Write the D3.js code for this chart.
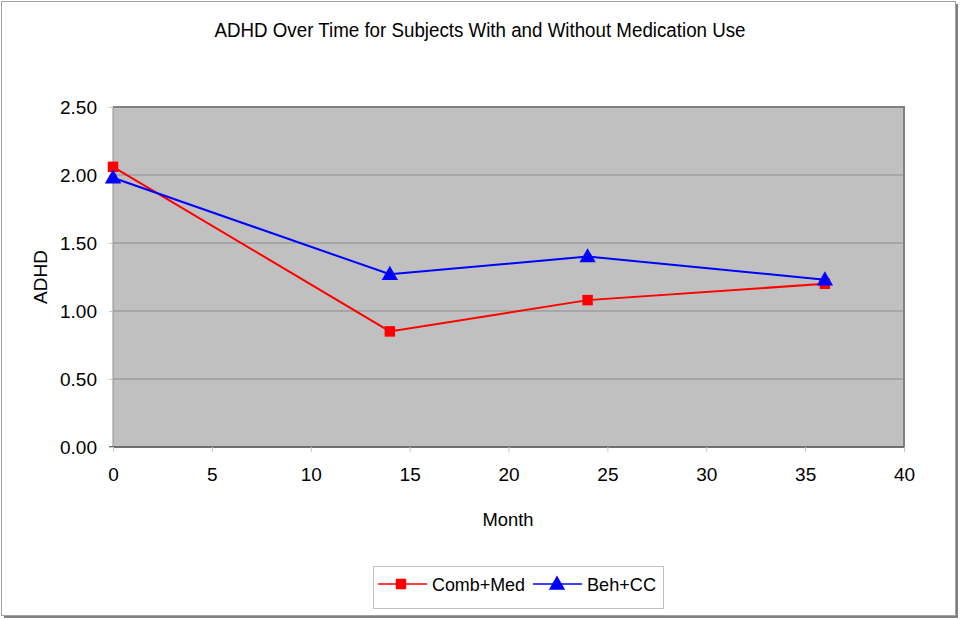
<!DOCTYPE html>
<html><head><meta charset="utf-8">
<script src="https://cdn.jsdelivr.net/npm/d3@7"></script>
<style>html,body{margin:0;padding:0;background:#fff;}svg{display:block;font-family:"Liberation Sans",Arial,sans-serif;}</style>
</head><body>
<svg id="c" width="960" height="620"></svg>
<script>
const months = [0, 14, 24, 36];
const combMed = [2.06, 0.85, 1.08, 1.20];
const behCC = [1.98, 1.27, 1.40, 1.23];
const seriesNames = ["Comb+Med", "Beh+CC"];
const seriesColors = ["#ff0000", "#0000ff"];
const xTicks = [0, 5, 10, 15, 20, 25, 30, 35, 40];
const yTicks = [0, 0.5, 1, 1.5, 2, 2.5];

const svg = d3.select("#c");
// outer frame with shadow
svg.append("rect").attr("x", 4).attr("y", 4).attr("width", 954).attr("height", 614).attr("fill", "#808080");
svg.append("rect").attr("x", 1.5).attr("y", 1.5).attr("width", 954).attr("height", 614).attr("fill", "#fff").attr("stroke", "#a0a0a0").attr("stroke-width", 1);

const L = 113, R = 904, T = 107, B = 447;
const x = d3.scaleLinear().domain([0, 40]).range([L, R]);
const y = d3.scaleLinear().domain([0, 2.5]).range([B, T]);

svg.append("rect").attr("x", L).attr("y", T).attr("width", R - L).attr("height", B - T).attr("fill", "#c0c0c0");
// gridlines
svg.append("g").selectAll("line").data(yTicks.slice(1, -1)).join("line")
  .attr("x1", L).attr("x2", R).attr("y1", d => y(d)).attr("y2", d => y(d))
  .attr("stroke", "#8c8c8c").attr("stroke-width", 1);
// plot border
svg.append("path").attr("d", `M${L},${T}H${R}V${B}`).attr("fill", "none").attr("stroke", "#808080").attr("stroke-width", 2);
svg.append("line").attr("x1", L).attr("x2", L).attr("y1", T).attr("y2", B).attr("stroke", "#909090").attr("stroke-width", 1);
svg.append("line").attr("x1", L - 4).attr("x2", R).attr("y1", B).attr("y2", B).attr("stroke", "#707070").attr("stroke-width", 2);

// axes
const xAxis = d3.axisBottom(x).tickValues(xTicks).tickFormat(d3.format("d")).tickSize(5).tickPadding(16);
const gx = svg.append("g").attr("transform", `translate(0,${B})`).call(xAxis);
gx.select(".domain").remove();
gx.selectAll(".tick line").attr("stroke", "#c8c8c8");
gx.selectAll("text").attr("font-size", 19).attr("fill", "#000").attr("font-family", "Liberation Sans, Arial, sans-serif");

const yAxis = d3.axisLeft(y).tickValues(yTicks).tickFormat(d3.format(".2f")).tickSize(4).tickPadding(12);
const gy = svg.append("g").attr("transform", `translate(${L},0)`).call(yAxis);
gy.select(".domain").remove();
gy.selectAll(".tick line").attr("stroke", "#c8c8c8");
gy.selectAll("text").attr("font-size", 19).attr("fill", "#000").attr("font-family", "Liberation Sans, Arial, sans-serif");

// titles
svg.append("text").attr("x", 480).attr("y", 37).attr("text-anchor", "middle").attr("font-size", 20)
  .attr("textLength", 531).attr("lengthAdjust", "spacingAndGlyphs").text("ADHD Over Time for Subjects With and Without Medication Use");
svg.append("text").attr("x", 508).attr("y", 526).attr("text-anchor", "middle").attr("font-size", 19)
  .attr("textLength", 51).attr("lengthAdjust", "spacingAndGlyphs").text("Month");
svg.append("text").attr("transform", "translate(47,277) rotate(-90)").attr("text-anchor", "middle").attr("font-size", 19)
  .text("ADHD");

// series
const data = [combMed, behCC];
const line = d3.line().x((d, i) => x(months[i])).y(d => y(d));
const sq = d3.symbol().type(d3.symbolSquare).size(110);
const tri = d3.symbol().type(d3.symbolTriangle).size(115);
const syms = [sq, tri];
data.forEach((vals, s) => {
  svg.append("path").datum(vals).attr("d", line).attr("fill", "none").attr("stroke", seriesColors[s]).attr("stroke-width", 2);
  svg.append("g").selectAll("path").data(vals).join("path")
    .attr("transform", (d, i) => `translate(${x(months[i])},${y(d) + (s === 1 ? 1 : 0)})`)
    .attr("d", syms[s]()).attr("fill", seriesColors[s]);
});

// legend
svg.append("rect").attr("x", 373.5).attr("y", 566.5).attr("width", 290).attr("height", 42).attr("fill", "#fff").attr("stroke", "#c0c0c0");
const legX = [[378, 427, 401, 432], [533, 582, 557, 587]];
seriesNames.forEach((n, s) => {
  const [a, b, c, t] = legX[s];
  svg.append("line").attr("x1", a).attr("x2", b).attr("y1", 584).attr("y2", 584).attr("stroke", seriesColors[s]).attr("stroke-width", 1.5);
  svg.append("path").attr("transform", `translate(${c},${584 + (s === 1 ? 1 : 0)})`).attr("d", syms[s]()).attr("fill", seriesColors[s]);
  svg.append("text").attr("x", t).attr("y", 591).attr("font-size", 19)
    .attr("textLength", s === 0 ? 93 : 69).attr("lengthAdjust", "spacingAndGlyphs").text(n);
});
</script>
</body></html>
